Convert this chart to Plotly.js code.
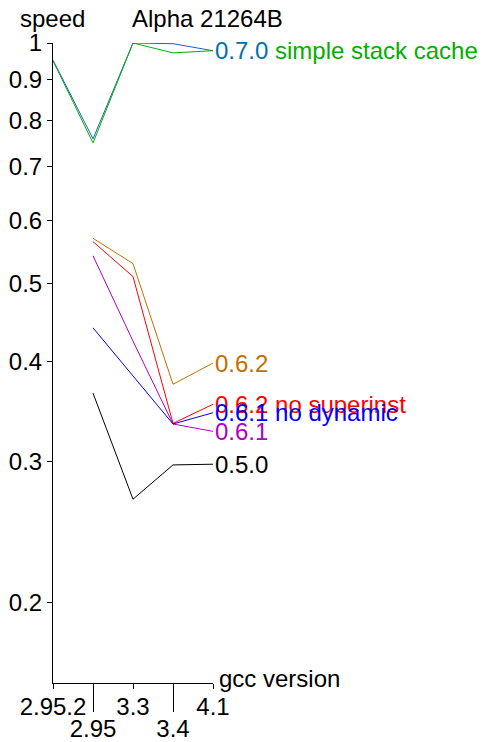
<!DOCTYPE html>
<html><head><meta charset="utf-8">
<script src="https://cdn.plot.ly/plotly-3.0.1.min.js"></script>
<style>html,body{margin:0;padding:0;background:#fff}</style>
</head><body><div id="chart" style="width:483px;height:742px"></div>
<script>
var versions = ["2.95.2", "2.95", "3.3", "3.4", "4.1"];
var xIdx = [0, 1, 2, 3, 4];
var v070 = [0.952, 0.759, 1.0, 0.998, 0.978];
var vStack = [0.950, 0.750, 1.0, 0.972, 0.978];
var v062 = [null, 0.570, 0.530, 0.3745, 0.398];
var v062ns = [null, 0.5646, 0.5105, 0.3346, 0.3535];
var v061 = [null, 0.542, 0.424, 0.334, 0.327];
var v061nd = [null, 0.4405, 0.3837, 0.334, 0.345];
var v050 = [null, 0.365, 0.269, 0.2969, 0.2975];
var yTicks = [0.2, 0.3, 0.4, 0.5, 0.6, 0.7, 0.8, 0.9, 1];
var yTickText = ["0.2", "0.3", "0.4", "0.5", "0.6", "0.7", "0.8", "0.9", "1"];

var series = [
  {name: "0.7.0", y: v070, color: "#1f5fc0", label: "#0070a8"},
  {name: "simple stack cache", y: vStack, color: "#00b000", label: "#00b000"},
  {name: "0.6.2", y: v062, color: "#c07000", label: "#c07000"},
  {name: "0.6.2 no superinst", y: v062ns, color: "#ff0000", label: "#ff0000"},
  {name: "0.6.1", y: v061, color: "#b000c0", label: "#b000c0"},
  {name: "0.6.1 no dynamic", y: v061nd, color: "#0000ff", label: "#0000ff"},
  {name: "0.5.0", y: v050, color: "#000000", label: "#000000"}
];

var FS = 24;
var font = {family: "Liberation Sans, Arial, sans-serif", size: FS, color: "#000"};
var traces = series.map(function(s){
  return {x: xIdx, y: s.y, type: "scatter", mode: "lines", line: {color: s.color, width: 1}, hoverinfo: "skip", connectgaps: false};
});
traces.push({x: [1, 3], y: [null, null], xaxis: "x2", type: "scatter", mode: "lines", showlegend: false, hoverinfo: "skip"});

var annotations = [];
series.forEach(function(s, i){
  var last = s.y[s.y.length - 1];
  var shift = 0;
  if (s.name === "simple stack cache") shift = 60;
  annotations.push({x: 4, y: Math.log10(last), xref: "x", yref: "y", text: s.name, showarrow: false,
    xanchor: "left", yanchor: "middle", xshift: shift,
    font: {family: font.family, size: FS, color: s.label}});
});
annotations.push({x: 0, y: 1, xref: "paper", yref: "paper", text: "speed", showarrow: false,
  xanchor: "center", yanchor: "middle", yshift: 25, xshift: -1, font: font});
annotations.push({x: 2, y: 1, xref: "x", yref: "paper", text: "Alpha 21264B", showarrow: false,
  xanchor: "left", yanchor: "middle", yshift: 25, xshift: -3, font: font});
annotations.push({x: 1, y: 0, xref: "paper", yref: "paper", text: "gcc version", showarrow: false,
  xanchor: "left", yanchor: "middle", yshift: 5, xshift: 4, font: font});

var layout = {
  width: 483, height: 742,
  margin: {l: 53, r: 270, t: 43, b: 59},
  showlegend: false,
  paper_bgcolor: "#fff", plot_bgcolor: "#fff",
  font: font,
  xaxis: {range: [0, 4], tickmode: "array", tickvals: [0, 2, 4], ticktext: [versions[0], versions[2], versions[4]],
    ticks: "outside", ticklen: 5, tickcolor: "#000", showline: true, linecolor: "#000", linewidth: 1,
    showgrid: false, zeroline: false, tickfont: font, ticklabelstandoff: -3},
  xaxis2: {range: [0, 4], overlaying: "x", anchor: "y", side: "bottom", tickmode: "array", tickvals: [1, 3],
    ticktext: [versions[1], versions[3]], ticks: "outside", ticklen: 28, tickcolor: "#000", showline: false,
    showgrid: false, zeroline: false, tickfont: font, ticklabelstandoff: -4},
  yaxis: {type: "log", range: [-0.8, 0], tickmode: "array", tickvals: yTicks, ticktext: yTickText,
    ticks: "outside", ticklen: 5, tickcolor: "#000", showline: true, linecolor: "#000", linewidth: 1,
    showgrid: false, zeroline: false, tickfont: font},
  annotations: annotations
};
Plotly.newPlot("chart", traces, layout, {staticPlot: true});
</script></body></html>
